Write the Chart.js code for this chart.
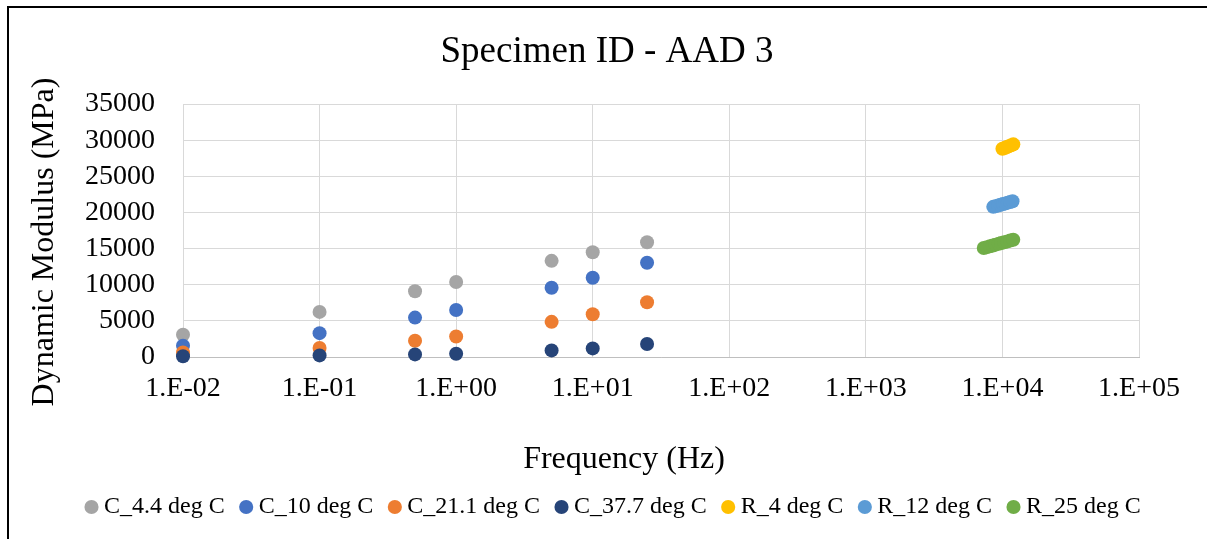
<!DOCTYPE html>
<html>
<head>
<meta charset="utf-8">
<script src="https://cdn.jsdelivr.net/npm/chart.js@4/dist/chart.umd.min.js"></script>
<style>
  html, body { margin: 0; padding: 0; background: #ffffff; }
  #wrap { position: relative; width: 1207px; height: 539px; }
  canvas { display: block; }
</style>
</head>
<body>
<div id="wrap"><canvas id="c" width="1207" height="539"></canvas></div>
<script>
// ---- data ----
const chartTitle = 'Specimen ID - AAD 3';
const xAxisTitle = 'Frequency (Hz)';
const yAxisTitle = 'Dynamic Modulus (MPa)';

const xTickValues = [0.01, 0.1, 1, 10, 100, 1000, 10000, 100000];
const xTickLabels = ['1.E-02', '1.E-01', '1.E+00', '1.E+01', '1.E+02', '1.E+03', '1.E+04', '1.E+05'];
const yTickValues = [0, 5000, 10000, 15000, 20000, 25000, 30000, 35000];

const seriesNames = ['C_4.4 deg C', 'C_10 deg C', 'C_21.1 deg C', 'C_37.7 deg C', 'R_4 deg C', 'R_12 deg C', 'R_25 deg C'];
const seriesColors = ['#a5a5a5', '#4472c4', '#ed7d31', '#264478', '#ffc000', '#5b9bd5', '#70ad47'];

const cFreq = [0.01, 0.1, 0.5, 1, 5, 10, 25];
const c44 = [3070, 6240, 9090, 10370, 13300, 14500, 15880];
const c10 = [1560, 3300, 5450, 6510, 9590, 10960, 13030];
const c211 = [630, 1240, 2240, 2840, 4860, 5920, 7580];
const c377 = [100, 220, 360, 450, 910, 1190, 1790];

const r4Freq = [10000, 10380, 10770, 11170, 11590, 12020];
const r4 = [28800, 28920, 29050, 29170, 29300, 29420];
const r12Freq = [8570, 8930, 9300, 9690, 10090, 10510, 10950, 11400, 11860];
const r12 = [20770, 20870, 20960, 21060, 21150, 21250, 21350, 21440, 21540];
const r25Freq = [7300, 7700, 8100, 8500, 8900, 9400, 9800, 10300, 10900, 11400, 12000];
const r25 = [15080, 15200, 15310, 15420, 15540, 15650, 15760, 15880, 15990, 16100, 16220];

// ---- build ----
function pts(xs, ys) { return xs.map((x, i) => ({ x: x, y: ys[i] })); }
const seriesData = [
  pts(cFreq, c44), pts(cFreq, c10), pts(cFreq, c211), pts(cFreq, c377),
  pts(r4Freq, r4), pts(r12Freq, r12), pts(r25Freq, r25)
];

const datasets = seriesNames.map((name, i) => ({
  label: name,
  data: seriesData[i],
  backgroundColor: seriesColors[i],
  borderColor: seriesColors[i],
  borderWidth: 0,
  pointRadius: 7,
  pointHoverRadius: 7,
  pointStyle: 'circle',
  showLine: false,
  clip: false,
  order: seriesNames.length - i
}));

const serif = "'Liberation Serif', 'Times New Roman', serif";

const frame = {
  id: 'frame',
  beforeDraw(chart) {
    const ctx = chart.ctx;
    ctx.save();
    ctx.fillStyle = '#ffffff';
    ctx.fillRect(0, 0, chart.width, chart.height);
    ctx.fillStyle = '#000000';
    ctx.fillRect(7, 6, 2, chart.height - 6);
    ctx.fillRect(7, 6, chart.width - 7, 2);
    ctx.restore();
  }
};

const titles = {
  id: 'titles',
  afterDraw(chart) {
    const ctx = chart.ctx;
    ctx.save();
    ctx.fillStyle = '#000000';
    ctx.textAlign = 'center';
    ctx.textBaseline = 'middle';
    ctx.font = '37px ' + serif;
    ctx.fillText(chartTitle, 607, 52);
    ctx.font = '32px ' + serif;
    ctx.fillText(xAxisTitle, 624, 460);
    ctx.translate(45, 242);
    ctx.rotate(-Math.PI / 2);
    ctx.fillText(yAxisTitle, 0, 0);
    ctx.restore();
  }
};

new Chart(document.getElementById('c'), {
  type: 'scatter',
  data: { datasets },
  plugins: [frame, titles],
  options: {
    responsive: false,
    animation: false,
    devicePixelRatio: 1,
    layout: { padding: { left: 70, right: 30, top: 104, bottom: 10 } },
    plugins: {
      title: { display: false },
      legend: {
        display: true,
        position: 'bottom',
        align: 'start',
        labels: {
          usePointStyle: true,
          pointStyle: 'circle',
          boxWidth: 1,
          boxHeight: 10,
          padding: 21,
          color: '#000',
          font: { family: serif, size: 24 },
          sort: (a, b) => a.datasetIndex - b.datasetIndex
        }
      },
      tooltip: { enabled: false }
    },
    scales: {
      x: {
        type: 'logarithmic',
        min: 0.01,
        max: 100000,
        afterBuildTicks(scale) { scale.ticks = xTickValues.map(v => ({ value: v })); },
        afterFit(scale) { scale.height = 117; scale.paddingRight = 68; },
        ticks: {
          autoSkip: false,
          maxRotation: 0,
          padding: 15,
          color: '#000',
          font: { family: serif, size: 28 },
          callback(value) {
            const i = xTickValues.findIndex(v => Math.abs(Math.log10(v) - Math.log10(value)) < 1e-6);
            return i >= 0 ? xTickLabels[i] : '';
          }
        },
        grid: { color: '#d9d9d9', lineWidth: 1, drawTicks: false },
        border: { display: true, color: '#bfbfbf', width: 1 },
        title: { display: false }
      },
      y: {
        type: 'linear',
        min: 0,
        max: 35000,
        afterBuildTicks(scale) { scale.ticks = yTickValues.map(v => ({ value: v })); },
        afterFit(scale) { scale.width = 113; },
        ticks: {
          autoSkip: false,
          padding: 28,
          color: '#000',
          font: { family: serif, size: 28 },
          callback(value) { return String(value); }
        },
        grid: { color: '#d9d9d9', lineWidth: 1, drawTicks: false },
        border: { display: false },
        title: { display: false }
      }
    }
  }
});
</script>
</body>
</html>
